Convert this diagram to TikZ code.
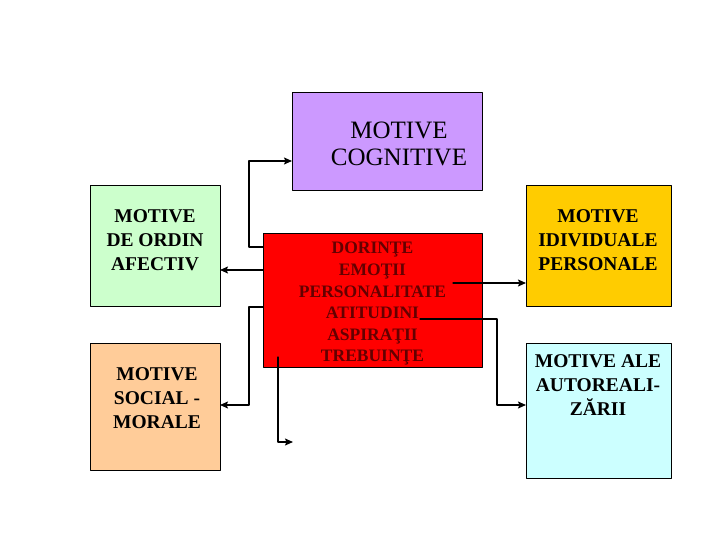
\documentclass[tikz,border=0pt]{standalone}
\usepackage{fontspec}
\setmainfont{Liberation Serif}
\usetikzlibrary{arrows.meta}
\definecolor{lila}{RGB}{204,153,255}
\definecolor{verde}{RGB}{204,255,204}
\definecolor{piersica}{RGB}{255,204,153}
\definecolor{galben}{RGB}{255,204,0}
\definecolor{azur}{RGB}{204,255,255}
\definecolor{visiniu}{RGB}{100,0,0}
\begin{document}
\begin{tikzpicture}[x=1pt,y=-1pt,>={Stealth[length=8pt,width=7pt,inset=1.5pt]},line join=round,line cap=round,
	box/.style={draw,line width=.8pt,inner sep=0pt,outer sep=0pt},
	lbl/.style={align=center,inner sep=0pt,font=\bfseries\fontsize{19.5}{24}\selectfont},
	arr/.style={->,line width=1.3pt}]
	\useasboundingbox (0,0) rectangle (720,540);
	\node[box,fill=lila,minimum width=190pt,minimum height=98pt] (cog) at (387,141) {};
	\node[box,fill=verde,minimum width=130pt,minimum height=121pt] (afect) at (155,245.5) {};
	\node[box,fill=piersica,minimum width=130pt,minimum height=127pt] (social) at (155,406.5) {};
	\node[box,fill=red,minimum width=219pt,minimum height=134pt] (core) at (372.5,300) {};
	\node[box,fill=galben,minimum width=145pt,minimum height=121pt] (indiv) at (598.5,245.5) {};
	\node[box,fill=azur,minimum width=145pt,minimum height=135pt] (autor) at (598.5,410.5) {};
	\node[lbl,font=\fontsize{25}{27}\selectfont] (cogt) at (399,143.5) {MOTIVE\\COGNITIVE};
	\node[lbl] (afectt) at (155,240) {MOTIVE\\DE ORDIN\\AFECTIV};
	\node[lbl] (socialt) at (157,398) {MOTIVE\\SOCIAL -\\MORALE};
	\node[lbl,text=visiniu,font=\bfseries\fontsize{17.5}{21.6}\selectfont] (coret) at (372.5,304) {DORINŢE\\EMOŢII\\PERSONALITATE\\ATITUDINI\\ASPIRAŢII\\TREBUINŢE};
	\node[lbl] (indivt) at (598,240) {MOTIVE\\IDIVIDUALE\\PERSONALE};
	\node[lbl] (autort) at (598,385) {MOTIVE ALE\\AUTOREALI-\\ZĂRII};
	\coordinate (c1) at (278,357);
	\coordinate (c2) at (453,283);
	\coordinate (c3) at (420,319);
	\coordinate (out) at (293,442);
	\draw[arr] (core.west |- 0,247) -- ++(-14,0) |- (cog.west |- 0,161);
	\draw[arr] (core.west |- 0,270) -- (afect.east |- 0,270);
	\draw[arr] (core.west |- 0,307) -- ++(-14,0) |- (social.east |- 0,405);
	\draw[arr] (c1) |- (out);
	\draw[arr] (c2) -- (indiv.west |- 0,283);
	\draw[arr] (c3) -| (497,405) -- (autor.west |- 0,405);
\end{tikzpicture}
\end{document}
